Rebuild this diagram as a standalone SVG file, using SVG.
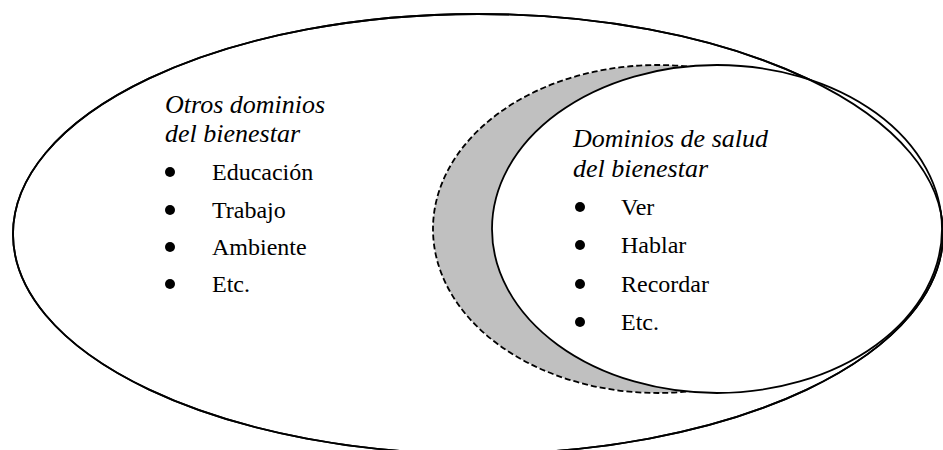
<svg xmlns="http://www.w3.org/2000/svg" width="943" height="450" viewBox="0 0 943 450">
<style>
.line{stroke:#000;stroke-width:1.8}
.ttl{font-family:"Liberation Serif","Times New Roman",serif;font-style:italic;font-size:26px;fill:#000}
.itm{font-family:"Liberation Serif","Times New Roman",serif;font-size:24px;fill:#000}
.dot{fill:#000}
</style>
<rect width="943" height="450" fill="#fff"/>
<g id="otros">
<ellipse class="line" cx="478" cy="234" rx="465" ry="220" fill="#fff"/>
<text class="ttl" x="165" y="113">Otros dominios</text>
<text class="ttl" x="165" y="142">del bienestar</text>
<circle class="dot" cx="170" cy="172" r="5"/>
<text class="itm" x="212" y="180">Educación</text>
<circle class="dot" cx="170" cy="210" r="5"/>
<text class="itm" x="212" y="218">Trabajo</text>
<circle class="dot" cx="170" cy="247" r="5"/>
<text class="itm" x="212" y="255">Ambiente</text>
<circle class="dot" cx="170" cy="284" r="5"/>
<text class="itm" x="212" y="292">Etc.</text>
</g>
<g id="sombra">
<ellipse class="line" cx="658" cy="229" rx="225" ry="164" fill="#c0c0c0" stroke-dasharray="6 3"/>
</g>
<g id="salud">
<ellipse class="line" cx="717" cy="229" rx="225" ry="164" fill="#fff"/>
<text class="ttl" x="573" y="147">Dominios de salud</text>
<text class="ttl" x="573" y="177">del bienestar</text>
<circle class="dot" cx="580" cy="207" r="5"/>
<text class="itm" x="621" y="215">Ver</text>
<circle class="dot" cx="580" cy="245" r="5"/>
<text class="itm" x="621" y="253">Hablar</text>
<circle class="dot" cx="580" cy="284" r="5"/>
<text class="itm" x="621" y="292">Recordar</text>
<circle class="dot" cx="580" cy="322" r="5"/>
<text class="itm" x="621" y="330">Etc.</text>
</g>
<g id="connectors">
<ellipse class="line" cx="478" cy="234" rx="465" ry="220" fill="none"/>
</g>
</svg>
